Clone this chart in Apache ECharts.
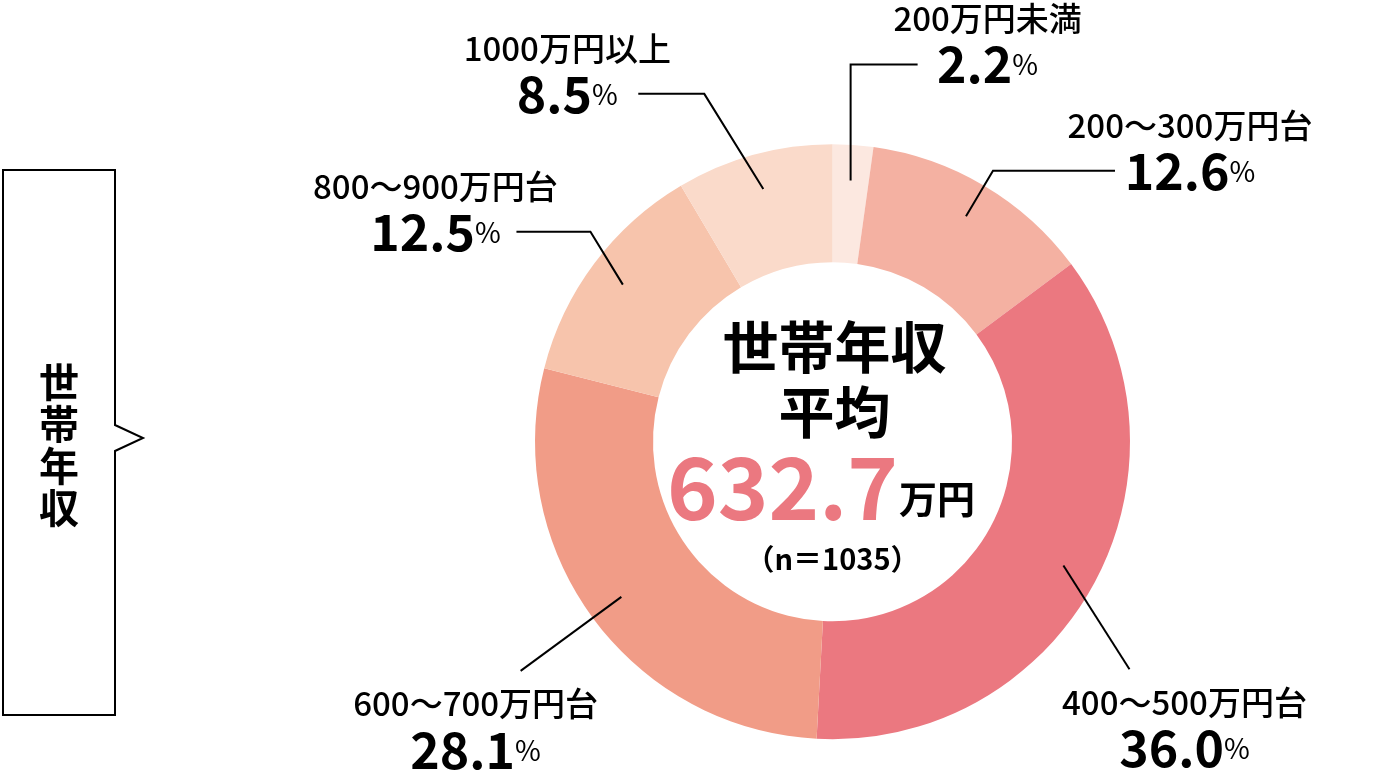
<!DOCTYPE html>
<html>
<head>
<meta charset="utf-8">
<script src="https://cdn.jsdelivr.net/npm/echarts@6/dist/echarts.min.js"></script>
<style>
  html, body { margin: 0; padding: 0; background: #ffffff; }
  #chart { width: 1400px; height: 776px; }
</style>
</head>
<body>
<div id="chart"></div>
<script>
// ---- data ----
const categories = ['200万円未満', '200～300万円台', '400～500万円台', '600～700万円台', '800～900万円台', '1000万円以上'];
const shares = [2.2, 12.6, 36.0, 28.1, 12.5, 8.5];
const sliceColors = ['#FCE8E0', '#F4B1A2', '#EB7880', '#F19C87', '#F7C4AC', '#FADACA'];
const averageIncome = '632.7';
const averageUnit = '万円';
const sampleNote = '（n＝1035）';
const centerTitle = ['世帯年収', '平均'];
const sideLabel = '世帯年収';

// ---- layout constants (not data) ----
const FONT = "'Noto Sans CJK JP', 'Noto Sans', sans-serif";
const CENTER = [832.5, 441.75];
const OUTER_R = 297.5;
const INNER_R = 179.5;
const CARRIER_R = 262;
// leader line style per slice: dir (deg, screen; null = radial), len1, len2, label offset from line end
const LEADERS = [
  { dir: -90,  len1: 116, len2: 67,  dx: 70,  dy: -23 },
  { dir: null, len1: 53,  len2: 122, dx: 75,  dy: -22.5 },
  { dir: 57.5, len1: 123, len2: 0,   dx: 55,  dy: 56 },
  { dir: null, len1: 125, len2: 0,   dx: -45, dy: 56 },
  { dir: 238.5,len1: 62,  len2: 74,  dx: -81, dy: -22.5 },
  { dir: 238.2,len1: 112, len2: 66,  dx: -71, dy: -22.5 }
];

const chart = echarts.init(document.getElementById('chart'), null, { renderer: 'canvas' });

const ringData = categories.map((c, i) => ({ name: c, value: shares[i], itemStyle: { color: sliceColors[i] } }));
const carrierData = categories.map((c, i) => ({ name: c, value: shares[i] }));

const option = {
  backgroundColor: '#ffffff',
  animation: false,
  series: [
    {
      type: 'pie',
      center: CENTER,
      radius: [INNER_R, OUTER_R],
      startAngle: 90,
      clockwise: true,
      silent: true,
      label: { show: false },
      labelLine: { show: false },
      itemStyle: { borderWidth: 0 },
      emphasis: { disabled: true },
      data: ringData,
      z: 1
    },
    {
      type: 'pie',
      center: CENTER,
      radius: [0, CARRIER_R],
      startAngle: 90,
      clockwise: true,
      silent: true,
      avoidLabelOverlap: false,
      emphasis: { disabled: true },
      itemStyle: { color: 'rgba(0,0,0,0)', borderWidth: 0 },
      label: {
        show: true,
        position: 'outside',
        formatter: p => '{name|' + p.name + '}\n{val|' + p.value.toFixed(1) + '}{pct|%}',
        rich: {
          name: { fontFamily: FONT, fontSize: 33, fontWeight: 500, color: '#000', lineHeight: 46, verticalAlign: 'middle' },
          val: { fontFamily: FONT, fontSize: 50, fontWeight: 'bold', color: '#000', lineHeight: 46, verticalAlign: 'middle' },
          pct: { fontFamily: FONT, fontSize: 28, fontWeight: 'normal', color: '#000', lineHeight: 46, verticalAlign: 'middle' }
        }
      },
      labelLine: {
        show: true,
        length: 20,
        length2: 10,
        lineStyle: { color: '#000', width: 2 }
      },
      labelLayout: function (params) {
        const cfg = LEADERS[params.dataIndex];
        const pts = params.labelLinePoints;
        if (!cfg || !pts) return {};
        const p0 = pts[0];
        let ux, uy;
        if (cfg.dir == null) {
          const ddx = p0[0] - CENTER[0], ddy = p0[1] - CENTER[1];
          const L = Math.hypot(ddx, ddy) || 1;
          ux = ddx / L; uy = ddy / L;
        } else {
          const a = cfg.dir * Math.PI / 180;
          ux = Math.cos(a); uy = Math.sin(a);
        }
        const p1 = [p0[0] + ux * cfg.len1, p0[1] + uy * cfg.len1];
        const side = p0[0] >= CENTER[0] ? 1 : -1;
        const p2 = [p1[0] + side * cfg.len2, p1[1]];
        return {
          x: p2[0] + cfg.dx,
          y: p2[1] + cfg.dy,
          align: 'center',
          verticalAlign: 'middle',
          labelLinePoints: [p0, p1, p2]
        };
      },
      data: carrierData,
      z: 3
    }
  ],
  graphic: [
    {
      type: 'polygon',
      shape: { points: [[3, 170], [115, 170], [115, 425], [143, 438], [115, 451], [115, 715], [3, 715]] },
      style: { fill: '#ffffff', stroke: '#000', lineWidth: 2 },
      z: 10
    },
    {
      type: 'text',
      x: 59, y: 445,
      style: { text: sideLabel.split('').join('\n'), font: 'bold 40px ' + FONT, fill: '#000', align: 'center', verticalAlign: 'middle', lineHeight: 42 },
      z: 11
    },
    {
      type: 'text',
      x: CENTER[0] + 2, y: 347,
      style: { text: centerTitle[0], font: 'bold 56px ' + FONT, fill: '#000', align: 'center', verticalAlign: 'middle' },
      z: 11
    },
    {
      type: 'text',
      x: CENTER[0] + 2, y: 412,
      style: { text: centerTitle[1], font: 'bold 56px ' + FONT, fill: '#000', align: 'center', verticalAlign: 'middle' },
      z: 11
    },
    {
      type: 'text',
      x: 898, y: 487,
      style: { text: averageIncome, font: 'bold 86px ' + FONT, fill: '#EB7880', align: 'right', verticalAlign: 'middle' },
      z: 11
    },
    {
      type: 'text',
      x: 899, y: 499,
      style: { text: averageUnit, font: 'bold 38px ' + FONT, fill: '#000', align: 'left', verticalAlign: 'middle' },
      z: 11
    },
    {
      type: 'text',
      x: CENTER[0], y: 559,
      style: { text: sampleNote, font: 'bold 29px ' + FONT, fill: '#000', align: 'center', verticalAlign: 'middle' },
      z: 11
    }
  ]
};
chart.setOption(option);
</script>
</body>
</html>
